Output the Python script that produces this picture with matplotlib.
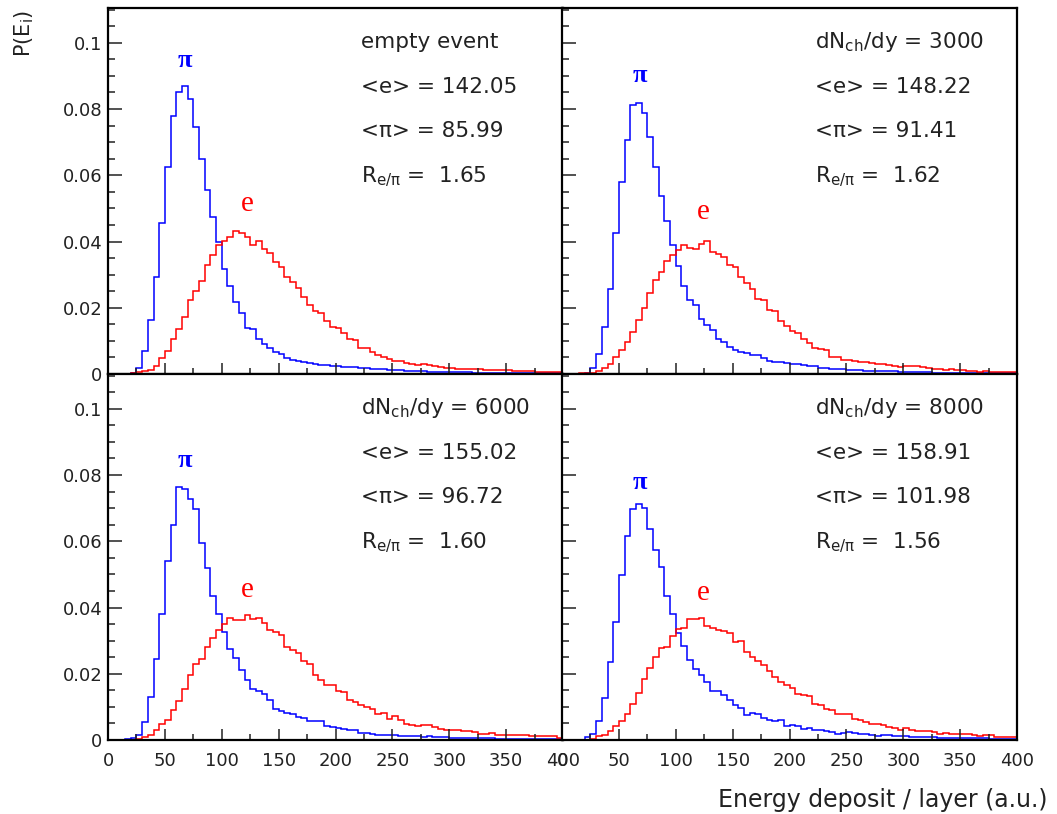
"""
Energy deposit per layer for electrons and pions at several multiplicities.

Four panels (empty event and dN_ch/dy = 3000, 6000, 8000), each showing the
normalised deposit spectra of electrons (red) and pions (blue) with the mean
values and their ratio written in the upper right corner.
"""

import numpy as np
import matplotlib.pyplot as plt
from matplotlib.ticker import MultipleLocator


# =============================================================================
# DATA  (bin contents in units of 1e-3, 80 bins of 5 a.u. from 0 to 400)
# =============================================================================

bin_edges = np.arange(0, 405, 5)

pi_empty = [
    0, 0, 0, 0.1, 0.3, 1.8, 6.8, 16.2, 29.4, 45.6,
    62.4, 78.0, 85.1, 86.9, 83.1, 74.6, 64.8, 55.7, 47.3, 39.8,
    31.7, 26.7, 21.7, 18.3, 13.9, 13.6, 10.6, 9.1, 7.9, 6.5,
    6.0, 4.7, 4.3, 4.0, 3.6, 3.3, 3.0, 2.8, 2.6, 2.5,
    2.3, 2.2, 2.1, 2.0, 1.9, 1.8, 1.6, 1.5, 1.4, 1.3,
    1.2, 1.1, 1.0, 0.9, 0.8, 0.8, 0.7, 0.7, 0.6, 0.6,
    0.5, 0.5, 0.5, 0.5, 0.4, 0.4, 0.4, 0.4, 0.4, 0.3,
    0.3, 0.3, 0.3, 0.3, 0.3, 0.3, 0.2, 0.2, 0.2, 0.2,
]
e_empty = [
    0, 0, 0, 0.1, 0.3, 0.5, 0.8, 1.2, 2.5, 4.8,
    7.0, 10.6, 13.6, 17.1, 22.4, 25.2, 28.2, 32.9, 36.0, 39.0,
    40.3, 41.5, 43.3, 42.5, 41.3, 38.8, 40.3, 37.8, 36.5, 33.7,
    32.4, 29.4, 27.7, 25.9, 23.2, 20.9, 18.9, 18.3, 16.1, 14.3,
    13.8, 12.3, 10.6, 10.3, 8.0, 7.7, 6.5, 5.8, 5.0, 4.5,
    4.0, 4.0, 3.2, 3.0, 2.8, 3.0, 2.8, 2.3, 2.0, 1.7,
    1.7, 1.5, 1.5, 1.5, 1.5, 1.4, 1.3, 1.3, 1.2, 1.2,
    1.2, 1.0, 0.9, 0.9, 0.8, 0.7, 0.7, 0.6, 0.6, 0.5,
]

pi_3000 = [
    0, 0, 0, 0.1, 0.3, 1.8, 6.0, 14.1, 25.6, 42.5,
    57.9, 70.7, 81.3, 81.9, 78.8, 71.7, 62.6, 53.7, 46.3, 39.0,
    32.7, 26.5, 22.3, 20.8, 16.6, 14.8, 13.3, 10.7, 9.8, 8.1,
    7.3, 6.5, 6.2, 5.7, 5.7, 4.8, 3.9, 3.6, 3.5, 3.2,
    3.0, 3.0, 2.7, 2.3, 2.3, 1.8, 1.8, 1.5, 1.5, 1.5,
    1.2, 1.2, 1.2, 1.0, 1.0, 1.0, 0.8, 0.8, 0.8, 0.5,
    0.5, 0.5, 0.5, 0.5, 0.5, 0.3, 0.3, 0.3, 0.3, 0.3,
    0.3, 0.3, 0.3, 0.3, 0.3, 0.3, 0.3, 0.3, 0.3, 0.3,
]
e_3000 = [
    0, 0, 0, 0.2, 0.2, 0.3, 1.0, 1.8, 3.0, 5.0,
    7.3, 9.6, 12.6, 16.3, 20.0, 24.4, 28.5, 30.7, 34.2, 36.0,
    37.4, 38.8, 37.9, 37.7, 39.1, 40.1, 36.9, 36.2, 35.2, 32.9,
    32.2, 29.2, 27.4, 25.6, 22.6, 22.3, 19.3, 19.1, 16.0, 14.4,
    12.9, 12.3, 10.6, 9.4, 8.0, 7.5, 7.3, 5.2, 5.0, 4.3,
    4.3, 4.0, 3.7, 3.5, 3.2, 3.0, 2.9, 2.7, 2.5, 2.2,
    2.3, 2.4, 2.3, 2.0, 1.8, 1.5, 1.4, 1.3, 1.5, 1.2,
    1.2, 1.0, 0.8, 0.7, 1.0, 0.6, 0.7, 0.7, 0.7, 0.5,
]

pi_6000 = [
    0, 0, 0, 0.3, 0.6, 1.6, 5.4, 12.9, 24.5, 38.1,
    54.0, 64.9, 76.4, 75.9, 72.8, 69.6, 59.5, 51.8, 43.6, 38.1,
    32.5, 27.6, 24.8, 21.0, 18.2, 15.5, 14.7, 13.9, 12.2, 9.5,
    8.9, 8.2, 7.7, 6.9, 6.6, 5.6, 5.6, 5.6, 4.3, 3.9,
    3.6, 3.4, 3.1, 2.9, 2.1, 2.1, 1.8, 1.6, 1.6, 1.4,
    1.4, 1.3, 1.3, 1.2, 1.1, 0.9, 1.3, 0.9, 0.8, 0.8,
    0.6, 0.6, 0.6, 0.5, 0.5, 0.5, 0.5, 0.5, 0.4, 0.4,
    0.4, 0.4, 0.4, 0.3, 0.3, 0.3, 0.3, 0.3, 0.3, 0.3,
]
e_6000 = [
    0, 0, 0, 0, 0.1, 0.2, 0.9, 1.4, 2.9, 4.8,
    6.0, 9.1, 11.9, 15.4, 19.7, 22.8, 24.5, 28.0, 30.8, 33.1,
    35.1, 36.7, 36.2, 36.2, 37.6, 36.4, 36.9, 35.3, 33.1, 32.5,
    31.6, 28.0, 27.3, 26.3, 23.8, 22.8, 19.7, 18.2, 16.5, 16.5,
    14.7, 14.4, 12.2, 11.5, 10.7, 10.0, 9.5, 7.9, 8.2, 6.3,
    7.1, 6.1, 4.8, 4.6, 4.3, 4.6, 4.4, 3.8, 3.4, 3.1,
    2.9, 2.9, 2.8, 2.7, 2.4, 1.9, 1.8, 2.1, 1.6, 1.6,
    1.6, 1.6, 1.4, 1.4, 1.1, 1.1, 1.3, 1.3, 1.1, 0.6,
]

pi_8000 = [
    0, 0, 0, 0, 0.8, 1.8, 5.8, 12.7, 23.5, 35.5,
    49.7, 61.5, 69.8, 71.3, 69.9, 63.7, 57.5, 52.2, 43.6, 37.9,
    32.3, 28.3, 24.1, 21.5, 19.7, 17.5, 14.9, 14.7, 13.5, 12.2,
    10.7, 9.7, 7.5, 8.2, 7.7, 6.6, 5.9, 5.6, 5.9, 4.1,
    4.4, 4.1, 3.3, 3.6, 2.9, 3.1, 2.8, 2.4, 1.9, 2.1,
    2.3, 2.1, 1.9, 1.8, 1.6, 1.3, 1.6, 1.4, 1.3, 1.1,
    1.1, 0.8, 0.9, 0.9, 0.9, 0.8, 0.6, 0.6, 0.6, 0.5,
    0.5, 0.5, 0.5, 0.5, 0.5, 0.4, 0.4, 0.4, 0.4, 0.4,
]
e_8000 = [
    0, 0, 0, 0, 0, 0.4, 1.1, 1.6, 2.6, 4.1,
    5.6, 7.9, 10.9, 14.2, 18.4, 21.8, 25.0, 27.8, 28.0, 31.5,
    33.5, 33.8, 36.4, 36.6, 36.9, 34.3, 33.8, 33.1, 32.8, 32.3,
    29.5, 29.8, 26.6, 25.0, 24.0, 22.6, 20.9, 18.9, 17.5, 16.7,
    15.7, 13.9, 13.7, 13.2, 10.9, 10.7, 9.5, 9.0, 8.0, 7.9,
    7.9, 6.3, 5.9, 5.4, 4.9, 4.8, 4.4, 3.9, 3.6, 3.1,
    3.6, 2.9, 2.8, 2.6, 2.6, 2.3, 1.9, 2.1, 1.8, 1.8,
    1.8, 1.8, 1.6, 1.3, 1.6, 1.4, 0.9, 0.9, 1.0, 1.0,
]

panel_titles = ['empty event', r'dN$_{\mathrm{ch}}$/dy = 3000',
                r'dN$_{\mathrm{ch}}$/dy = 6000', r'dN$_{\mathrm{ch}}$/dy = 8000']
mean_e = ['142.05', '148.22', '155.02', '158.91']
mean_pi = ['85.99', '91.41', '96.72', '101.98']
ratio_e_pi = ['1.65', '1.62', '1.60', '1.56']

# label anchors (x in a.u., y in 1e-3) for the pi and e curve names
pi_label_pos = [(68, 94.6), (68.5, 90.1), (68, 84.4), (68.5, 77.6)]
e_label_pos = [(122.5, 51.4), (124, 48.8), (122.5, 45.4), (124, 44.4)]


# =============================================================================
# PLOTTING
# =============================================================================

BLUE = '#0000ff'
RED = '#ff0000'
TXT = '#222222'


def style_axes(ax, show_x, show_y):
    """ROOT-like frame: thick border, inward ticks on left and bottom only."""
    ax.set_xlim(0, 400)
    ax.set_ylim(0, 0.1105)
    for sp in ax.spines.values():
        sp.set_linewidth(1.6)
    ax.xaxis.set_major_locator(MultipleLocator(50))
    ax.xaxis.set_minor_locator(MultipleLocator(25))
    ax.yaxis.set_major_locator(MultipleLocator(0.02))
    ax.yaxis.set_minor_locator(MultipleLocator(0.005))
    ax.tick_params(axis='both', which='both', direction='in', top=False, right=False,
                   width=1.1, colors='#222222', labelsize=13)
    ax.tick_params(axis='x', which='major', length=8, pad=9)
    ax.tick_params(axis='x', which='minor', length=4)
    ax.tick_params(axis='y', which='major', length=10, pad=4)
    ax.tick_params(axis='y', which='minor', length=5)
    ax.xaxis.set_major_formatter(lambda v, p: f'{v:.0f}')
    ax.yaxis.set_major_formatter(lambda v, p: '0' if v == 0 else f'{v:g}')
    if not show_x:
        ax.tick_params(axis='x', labelbottom=False)
    if not show_y:
        ax.tick_params(axis='y', labelleft=False)


fig = plt.figure(figsize=(10.57, 8.14), dpi=100)

W, H = 1057, 814
x_cols = [108 / W, 562 / W]
y_rows = [1 - 374 / H, 1 - 740 / H]
pw = 455 / W
ph = 366 / H

pi_data = [pi_empty, pi_3000, pi_6000, pi_8000]
e_data = [e_empty, e_3000, e_6000, e_8000]

for i in range(4):
    row, col = divmod(i, 2)
    ax = fig.add_axes([x_cols[col], y_rows[row], pw, ph])
    style_axes(ax, show_x=(row == 1), show_y=(col == 0))

    ax.stairs(np.array(pi_data[i]) * 1e-3, bin_edges, color=BLUE, linewidth=1.1)
    ax.stairs(np.array(e_data[i]) * 1e-3, bin_edges, color=RED, linewidth=1.1)

    # curve names
    px, py = pi_label_pos[i]
    ax.text(px, py * 1e-3, 'π', color=BLUE, fontsize=19, family='Liberation Serif',
            fontweight='bold', ha='center', va='center')
    ex, ey = e_label_pos[i]
    ax.text(ex, ey * 1e-3, 'e', color=RED, fontsize=21, family='Liberation Serif',
            ha='center', va='center')

    # summary block
    lines = [panel_titles[i],
             f'<e> = {mean_e[i]}',
             f'<π> = {mean_pi[i]}',
             r'R$_{\mathrm{e/\pi}}$ =  ' + ratio_e_pi[i]]
    for txt, yf in zip(lines, [0.907, 0.784, 0.664, 0.538]):
        ax.text(0.555, yf, txt, transform=ax.transAxes, fontsize=15.5, color=TXT,
                ha='left', va='center')

fig.text(24 / W, 1 - 10 / H, r'P(E$_{\mathrm{i}}$)', rotation=90, fontsize=15,
         color=TXT, ha='center', va='top')
fig.text(1048 / W, 1 - 800 / H, 'Energy deposit / layer (a.u.)', fontsize=17,
         color=TXT, ha='right', va='center')

fig.savefig('out.png', dpi=100)
